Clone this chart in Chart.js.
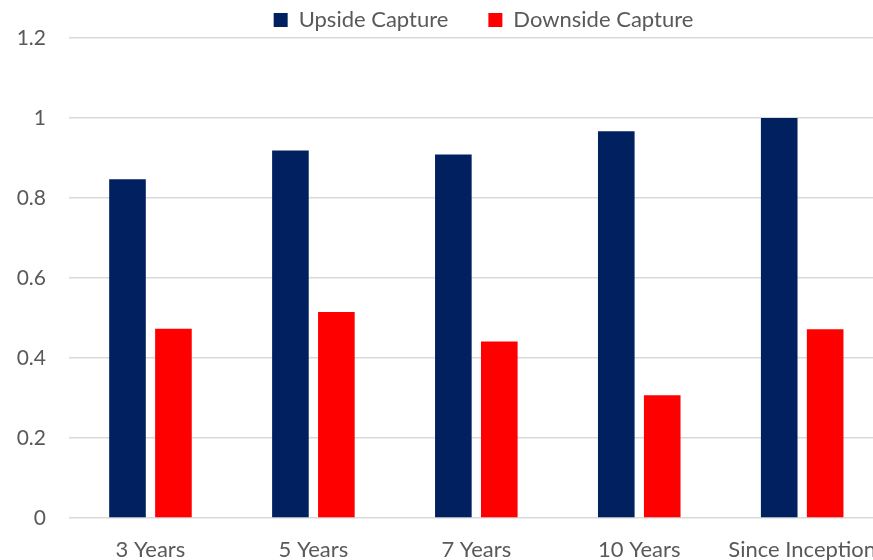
<!DOCTYPE html>
<html>
<head>
<meta charset="utf-8">
<script src="https://cdn.jsdelivr.net/npm/chart.js@4.4.1/dist/chart.umd.min.js"></script>
<style>
  html, body { margin: 0; padding: 0; background: #fff; overflow: hidden; }
  #wrap { position: absolute; left: 0; top: 0; }
</style>
</head>
<body>
<div id="wrap"><canvas id="myChart" width="895" height="572"></canvas></div>
<script>
// Données du graphique
const categories = ["3 Years", "5 Years", "7 Years", "10 Years", "Since Inception"];
const upsideCapture = [0.847, 0.919, 0.909, 0.967, 1.0];
const downsideCapture = [0.473, 0.515, 0.441, 0.307, 0.472];
const yTicks = [0, 0.2, 0.4, 0.6, 0.8, 1, 1.2];

const textColor = "#595959";
const gridColor = "#d9d9d9";
const fontFamily = "Lato, 'Open Sans', sans-serif";

// légende : hauteur fixe, décalée comme dans l'original
const legendTweak = {
    id: "legendTweak",
    afterInit(chart) {
        const legend = chart.legend;
        const fit = legend.fit.bind(legend);
        legend.fit = function () { fit(); this.height = 38; };
    },
    afterLayout(chart) {
        const legend = chart.legend;
        legend.left += 36;
        legend.right += 36;
        legend.top = -31;
    }
};

const config = {
    type: "bar",
    data: {
        labels: categories,
        datasets: [
            {
                label: "Upside Capture",
                data: upsideCapture,
                backgroundColor: "#002060",
                categoryPercentage: 0.564,
                barPercentage: 0.797,
            },
            {
                label: "Downside Capture",
                data: downsideCapture,
                backgroundColor: "#ff0000",
                categoryPercentage: 0.564,
                barPercentage: 0.797,
            },
        ],
    },
    options: {
        responsive: false,
        animation: false,
        devicePixelRatio: 1,
        layout: { padding: 0 },
        plugins: {
            legend: {
                position: "top",
                labels: {
                    boxWidth: 14,
                    boxHeight: 14,
                    padding: 40,
                    color: textColor,
                    font: { family: fontFamily, size: 22 },
                },
            },
            tooltip: { enabled: false },
        },
        scales: {
            x: {
                grid: { display: false, drawTicks: false },
                border: { display: false },
                ticks: {
                    color: textColor,
                    font: { family: fontFamily, size: 22 },
                    padding: 19,
                    maxRotation: 0,
                    autoSkip: false,
                },
                afterFit(scale) { scale.height = 54; },
            },
            y: {
                min: 0,
                max: 1.2,
                afterBuildTicks(scale) {
                    scale.ticks = yTicks.map(v => ({ value: v }));
                },
                grid: { color: gridColor, lineWidth: 1.5, drawTicks: false },
                border: { display: false },
                ticks: {
                    color: textColor,
                    font: { family: fontFamily, size: 21 },
                    padding: 23,
                    callback: v => String(+v.toFixed(1)),
                },
                afterFit(scale) { scale.width = 69; },
            },
        },
    },
    plugins: [legendTweak],
};

const ctx = document.getElementById("myChart").getContext("2d");
const myChart = new Chart(ctx, config);
</script>
</body>
</html>
